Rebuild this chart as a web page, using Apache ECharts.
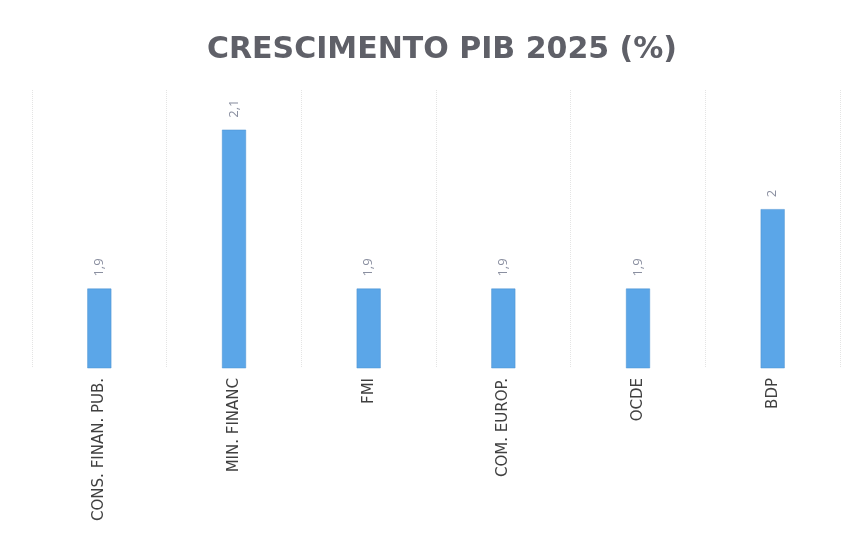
<!DOCTYPE html>
<html><head><meta charset="utf-8">
<script src="https://cdn.jsdelivr.net/npm/echarts@6/dist/echarts.min.js"></script>
<style>html,body{margin:0;padding:0;background:#fff}#c{width:856px;height:542px}</style>
</head><body><div id="c"></div>
<script>
const categories = ["CONS. FINAN. PUB.", "MIN. FINANC", "FMI", "COM. EUROP.", "OCDE", "BDP"];
const values = [1.9, 2.1, 1.9, 1.9, 1.9, 2.0];
const valueLabels = ["1,9", "2,1", "1,9", "1,9", "1,9", "2"];
const chartTitle = "CRESCIMENTO PIB 2025 (%)";

const chart = echarts.init(document.getElementById('c'));
chart.setOption({
  backgroundColor: '#ffffff',
  animation: false,
  title: {
    text: chartTitle, left: 437, top: 30, textAlign: 'center',
    textStyle: { fontFamily: 'DejaVu Sans', fontWeight: 'bold', fontSize: 30, color: '#5f6068' }
  },
  grid: { left: 32, right: 16, top: 90, bottom: 174 },
  xAxis: {
    type: 'category', data: categories,
    axisLine: { show: false }, axisTick: { show: false },
    splitLine: { show: true, interval: 0, lineStyle: { color: '#e4e4e4', type: 'dotted', width: 1 } },
    axisLabel: { rotate: 90, interval: 0, margin: 10, fontFamily: 'DejaVu Sans', fontSize: 15, color: '#404040' }
  },
  yAxis: { type: 'value', min: 1.8, max: 2.15, show: false, splitLine: { show: false } },
  series: [{
    type: 'bar', data: values, barWidth: 24,
    itemStyle: { color: '#5ba6e8', borderColor: '#4a90d0', borderWidth: 0.5 },
    label: {
      show: true, position: 'top', rotate: 90, distance: 12, align: 'left', verticalAlign: 'middle',
      fontFamily: 'Open Sans', fontSize: 13, color: '#8a8fa0',
      formatter: p => valueLabels[p.dataIndex]
    }
  }]
});
</script></body></html>
